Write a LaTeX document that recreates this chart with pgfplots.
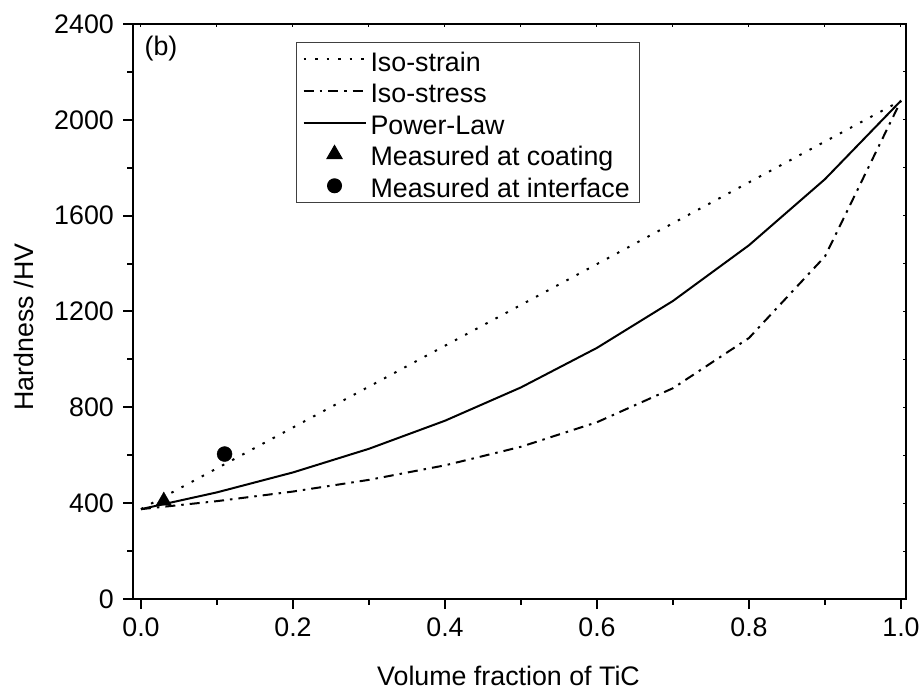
\documentclass[border=0pt]{standalone}
\usepackage{fontspec}
\setmainfont{Liberation Sans}
\usepackage{pgfplots}
\pgfplotsset{compat=1.18}
\newcommand\fs{\fontsize{26.8}{32}\selectfont}
\newcommand\ls{\rule[-5.6pt]{0pt}{33.2pt}}
\pgfplotsset{
  legline/.style={legend image code/.code={\draw[##1] (0pt,0pt) -- (62pt,0pt);}},
  legtri/.style={legend image code/.code={\draw[black, fill=black] plot[mark=triangle*, mark size=8.7pt] coordinates {(31pt,0pt)};}},
  legcirc/.style={legend image code/.code={\draw[black, fill=black] plot[mark=*, mark size=7pt] coordinates {(31pt,0pt)};}},
}
\begin{document}
\begin{tikzpicture}
\fs
\useasboundingbox (-133pt,-96pt) rectangle (790pt,599pt);
\begin{axis}[
  at={(0pt,0pt)}, anchor=south west,
  scale only axis, width=773pt, height=575pt,
  /pgf/number format/assume math mode=true,
  xmin=-0.0105, xmax=1.0066, ymin=0, ymax=2400,
  xtick={0,0.2,0.4,0.6,0.8,1}, minor xtick={0.1,0.3,0.5,0.7,0.9},
  ytick={0,400,800,1200,1600,2000,2400}, minor ytick={200,600,1000,1400,1800,2200},
  xtick pos=left, ytick pos=left, tick align=outside,
  major tick length=10pt, minor tick length=6pt,
  every tick/.style={black, line width=2pt},
  axis line style={line width=2.5pt},
  every tick label/.append style={font=\fs},
  every axis label/.append style={font=\fs},
  xticklabel style={/pgf/number format/.cd, fixed, fixed zerofill, precision=1},
  yticklabel style={/pgf/number format/.cd, fixed, 1000 sep={}},
  xlabel={Volume fraction of TiC}, ylabel={Hardness /HV},
  xlabel style={at={(axis description cs:0.4858,-0.134)}, anchor=center},
  ylabel style={at={(axis description cs:-0.141,0.473)}, anchor=center},
  legend style={at={(axis description cs:0.2109,0.9687)}, anchor=north west,
    font=\fs,
    draw=black!75, line width=1pt, inner xsep=6pt, inner ysep=1pt,
    nodes={inner xsep=4pt, inner ysep=0pt},
    /tikz/every even column/.append style={column sep=0pt}},
  legend cell align=left,
]
\addplot[black, line width=2pt, dash pattern=on 2.5pt off 9pt, legline]
coordinates {(0,375) (0.1,545.5) (0.2,716) (0.3,886.5) (0.4,1057) (0.5,1227.5) (0.6,1398) (0.7,1568.5) (0.8,1739) (0.9,1909.5) (1.0,2080)};
\addlegendentry{\ls Iso-strain}
\addplot[black, line width=2pt, dash pattern=on 10pt off 6pt on 2.5pt off 6pt, legline]
coordinates {(0,375) (0.1,408.5) (0.2,448.5) (0.3,497.3) (0.4,557.9) (0.5,635.4) (0.6,737.9) (0.7,879.9) (0.8,1089.4) (0.9,1429.9) (1.0,2080)};
\addlegendentry{\ls Iso-stress}
\addplot[black, line width=2pt, legline]
coordinates {(0,375) (0.1,445.1) (0.2,528.3) (0.3,627.0) (0.4,744.1) (0.5,883.2) (0.6,1048.2) (0.7,1244.1) (0.8,1476.5) (0.9,1752.4) (1.0,2080)};
\addlegendentry{\ls Power-Law}
\addplot[black, only marks, mark=triangle*, mark size=8.7pt, legtri]
coordinates {(0.03,410)};
\addlegendentry{\ls Measured at coating}
\addplot[black, only marks, mark=*, mark size=7.5pt, legcirc]
coordinates {(0.11,605)};
\addlegendentry{\ls Measured at interface}
\node[font=\fs] at (axis description cs:0.0362,0.9565) {(b)};
\end{axis}
\begin{axis}[
  at={(0pt,0pt)}, anchor=south west,
  scale only axis, width=773pt, height=575pt,
  xmin=-0.0105, xmax=1.0066, ymin=0, ymax=2400,
  xtick={0,0.2,0.4,0.6,0.8,1}, minor xtick={0.1,0.3,0.5,0.7,0.9},
  ytick={0,400,800,1200,1600,2000,2400}, minor ytick={200,600,1000,1400,1800,2200},
  xtick pos=right, ytick pos=right, tick align=inside,
  major tick length=3.5pt, minor tick length=3.5pt,
  every tick/.style={black, line width=1pt},
  axis line style={line width=2.5pt},
  xticklabels={}, yticklabels={},
]
\end{axis}
\end{tikzpicture}
\end{document}
